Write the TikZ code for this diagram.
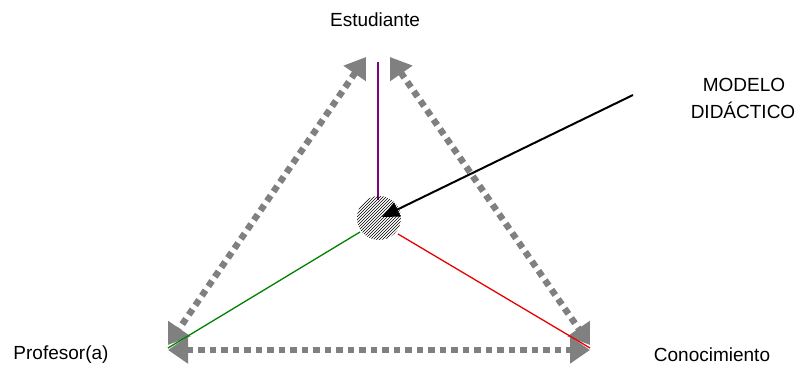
\documentclass[tikz,border=0pt]{standalone}
\usepackage{fontspec}
\setmainfont{Liberation Sans}
\usetikzlibrary{arrows.meta,patterns}
\begin{document}
\begin{tikzpicture}[x=1pt,y=-1pt,
  lbl/.style={font=\fontsize{19}{22}\selectfont, inner sep=0pt},
  dotarrow/.style={draw={rgb,255:red,128;green,128;blue,128}, line width=6.5pt,
    dash pattern=on 6.5pt off 5pt,
    {Triangle[length=20pt,width=26pt]}-{Triangle[length=20pt,width=26pt]}},
  axis/.style={line width=1.3pt}]
\useasboundingbox (0,0) rectangle (801,367);
\coordinate (S) at (378,58);
\coordinate (P) at (168,348);
\coordinate (C) at (590,348);
\coordinate (M) at (379,218);
\coordinate (Src) at (633,95);
% dotted double arrows
\draw[dotarrow] (366,57) -- (168,345);
\draw[dotarrow] (390,57) -- (590,345);
\draw[dotarrow] (168,350) -- (590,350);
% lines
\draw[axis, draw={rgb,255:red,128;green,0;blue,128}] (378,62) -- (378,200);
\draw[axis, draw={rgb,255:red,0;green,128;blue,0}] (P) -- (360,232);
\draw[axis, draw={rgb,255:red,230;green,0;blue,0}] (398,234) -- (C);
% hatched circle
\node[circle, minimum size=44pt, inner sep=0pt, pattern=north east lines] (Mc) at (M) {};
% arrow
\draw[line width=2pt, -{Triangle[length=17pt,width=15pt]}] (Src) -- (382,217);
% labels
\node[lbl] (tS) at (375,20) {Estudiante};
\node[lbl] (tP) at (61,355) {Profesor(a)};
\node[lbl] (tC) at (712,355) {Conocimiento};
\node[lbl] (tM1) at (744,85) {MODELO};
\node[lbl] (tM2) at (743,110) {DIDÁCTICO};
\end{tikzpicture}
\end{document}
